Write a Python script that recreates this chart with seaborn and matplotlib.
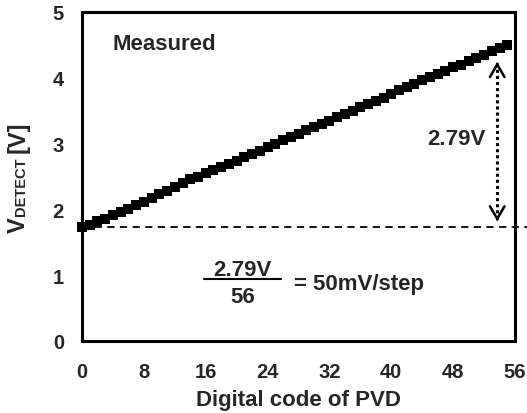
import matplotlib
matplotlib.use("Agg")
import matplotlib.pyplot as plt
import seaborn as sns
import pandas as pd
from matplotlib.ticker import MultipleLocator

codes = list(range(56))
vdetect = [1.73, 1.77, 1.82, 1.86, 1.91, 1.96, 2.01, 2.06, 2.12, 2.17,
           2.23, 2.28, 2.34, 2.40, 2.46, 2.50, 2.55, 2.60, 2.64, 2.69,
           2.74, 2.79, 2.84, 2.89, 2.95, 2.99, 3.05, 3.10, 3.15, 3.20,
           3.25, 3.30, 3.35, 3.40, 3.45, 3.50, 3.55, 3.60, 3.65, 3.70,
           3.75, 3.81, 3.86, 3.91, 3.96, 4.01, 4.06, 4.11, 4.16, 4.20,
           4.25, 4.30, 4.35, 4.40, 4.45, 4.50]
x_ticks = [0, 8, 16, 24, 32, 40, 48, 56]
y_ticks = [0, 1, 2, 3, 4, 5]
ref_level = 1.73
delta_label = "2.79V"
denom_label = "56"

sns.set_theme(style="white")
plt.rcParams['font.family'] = ['Liberation Sans', 'DejaVu Sans']
plt.rcParams['font.weight'] = 'bold'

df = pd.DataFrame({"code": codes, "v": vdetect})

W, H = 527, 414
fig = plt.figure(figsize=(W/100, H/100), dpi=100)
ax = fig.add_axes([82/W, 72/H, (515-82)/W, (342-13)/H])

sns.scatterplot(data=df, x="code", y="v", marker="s", s=46, color="black",
                edgecolor="black", linewidth=0, ax=ax, zorder=3, clip_on=False)

ax.set_xlim(0, 56)
ax.set_ylim(0, 5)
ax.set_xticks(x_ticks)
ax.set_yticks(y_ticks)
ax.yaxis.set_minor_locator(MultipleLocator(0.5))
ax.tick_params(axis='both', which='both', direction='in', width=2, color='black')
ax.tick_params(axis='both', which='major', length=5, labelsize=14.5)
ax.tick_params(axis='x', which='major', pad=15)
ax.tick_params(axis='y', which='major', pad=13)
ax.tick_params(axis='y', which='minor', length=5)
ax.tick_params(axis='x', which='minor', length=0)
for lab in ax.get_xticklabels() + ax.get_yticklabels():
    lab.set_fontweight('bold')
for sp in ax.spines.values():
    sp.set_color('black')
    sp.set_linewidth(2.2)
    sp.set_visible(True)

ax.set_xlabel("Digital code of PVD", fontsize=16, fontweight='bold', labelpad=6)
ax.set_ylabel("")

# y label built from pieces: V, subscript DETECT, [V]
r = fig.canvas.get_renderer()
xb = 25 / W
y0 = (H - 233) / H
t1 = fig.text(xb, y0, "V", rotation=90, rotation_mode='anchor', ha='left',
              va='baseline', fontsize=17, fontweight='bold')
h1 = t1.get_window_extent(r).height
t2 = fig.text(xb, y0 + (h1 + 1) / H, "DETECT", rotation=90, rotation_mode='anchor',
              ha='left', va='baseline', fontsize=10.5, fontweight='bold')
h2 = t2.get_window_extent(r).height
fig.text(xb, y0 + (h1 + h2 + 6) / H, "[V]", rotation=90, rotation_mode='anchor',
         ha='left', va='baseline', fontsize=17, fontweight='bold')

# dashed reference line
ax.plot([0, 57.5], [ref_level, ref_level], ls=(0, (4, 3)), color='black',
        lw=1.3, clip_on=False, zorder=2)

# dotted arrow
xa = 53.7
ax.plot([xa, xa], [1.86, 4.20], ls=(0, (1, 1)), color='black', lw=2.2, zorder=2)
ax.annotate("", xy=(xa, 4.24), xytext=(xa, 4.20),
            arrowprops=dict(arrowstyle="->,head_width=0.35,head_length=0.6",
                            lw=1.8, color='black', shrinkA=0, shrinkB=0,
                            mutation_scale=15))
ax.annotate("", xy=(xa, 1.82), xytext=(xa, 1.86),
            arrowprops=dict(arrowstyle="->,head_width=0.35,head_length=0.6",
                            lw=1.8, color='black', shrinkA=0, shrinkB=0,
                            mutation_scale=15))

ax.text(52.2, 3.07, delta_label, fontsize=16, fontweight='bold', ha='right', va='center')
ax.text(4.0, 4.52, "Measured", fontsize=16, fontweight='bold', ha='left', va='center')

# fraction
ax.text(20.8, 1.09, delta_label, fontsize=16, fontweight='bold', ha='center', va='center')
ax.plot([15.8, 25.8], [0.94, 0.94], color='black', lw=1.5)
ax.text(20.8, 0.68, denom_label, fontsize=16, fontweight='bold', ha='center', va='center')
ax.text(27.4, 0.87, "= 50mV/step", fontsize=16, fontweight='bold', ha='left', va='center')

fig.savefig("out.png", dpi=100)
